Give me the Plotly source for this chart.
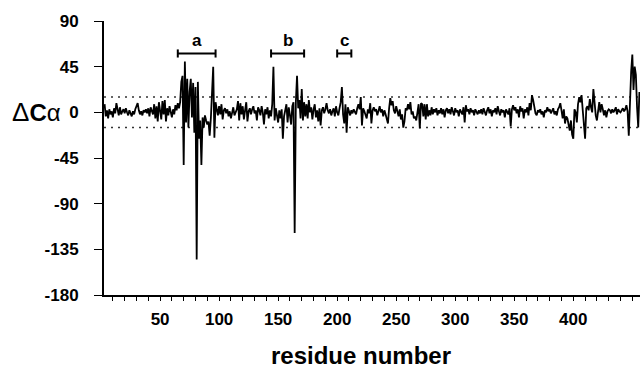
import plotly.graph_objects as go

# ---- data (ΔCα per residue, starting at residue 3) ----
first_residue = 3
seg_003_099 = [
    8, -4, 2, -6, 3, -2, 1,
    -5, 4, -1, 9, 2, -3, 5, -2, 1, 3,
    -1, 4, 0, -3, 2, -1, -4, 1, -2, 3,
    6, 9, 2, -2, 1, -3, 2, 0, 3, -1,
    4, -4, 5, 1, -2, 8, -6, 6, -9, 10,
    2, -7, 11, -2, 12, -9, 4, -3, 6, 1,
    -5, 3, -2, 7, 2, 9, 4, 10, 30, 36,
    -52, 50, -10, 33, -15, 20, 33, -5, 29, -20,
    25, -145, 30, -26, -8, -52, -5, -15, -3, -8,
    -12, -9, -23, -6, 14, 45, -25, 10, 3, -3,
]
seg_100_199 = [
    6, -2, 8, -7, 2, 4, -1, 3, -4, 1,
    -6, 2, 5, -3, 0, 3, 11, -8, 9, -2,
    6, -7, 2, 10, -9, 1, 4, -2, 3, 6,
    -1, 2, -8, 5, 2, -3, 6, 0, -12, 3,
    -2, 5, -6, 2, -4, 8, 45, -8, 4, -3,
    -10, 2, -6, 3, -26, -4, 2, 8, -10, 5,
    -3, -12, 6, 10, -119, 10, 36, 4, 12, -6,
    23, -8, 10, -4, 8, -6, 12, 0, 5, -7,
    3, 8, -5, 2, -9, 4, -13, 2, 5, -1,
    3, 9, 2, -1, 3, -3, 1, 4, -4, 6,
]
seg_200_299 = [
    0, -3, 4, 10, 25, -2, -11, 8, -20, 5,
    1, -3, 2, -1, 3, 0, -2, 4, 8, 3,
    15, -13, 4, 1, -2, -6, 3, -1, 9, -11,
    2, 5, 1, 3, -3, 2, 6, 0, 3, -4,
    2, -2, -6, -11, 4, 14, 7, 11, 2, -1,
    6, 2, -4, 3, -7, -2, -15, -9, 4, 2,
    8, 3, 10, -2, 1, -6, -4, -8, 2, 8,
    -16, 9, 8, -4, 8, -7, 8, -4, 2, -3,
    5, -2, 3, 0, 4, -3, 2, -1, 4, -2,
    3, -5, 2, 4, -1, 3, -2, 5, 1, -3,
]
seg_300_399 = [
    4, 0, 2, -4, 3, 1, -2, 5, -10, 7,
    1, 3, -2, 4, 0, 2, -3, 3, 1, -2,
    2, -1, 3, -2, 4, 1, -3, 2, 5, -1,
    3, -4, 2, 0, 4, -2, 6, 1, -3, 3,
    0, 2, -5, 3, 1, -2, 4, -14, 3, 7,
    2, 5, -1, 3, -5, 6, 1, 4, -6, 3,
    0, 5, -3, 9, 2, 17, 12, 3, -1, -3,
    2, 0, 3, -2, 1, -5, 2, 0, 5, 1,
    3, -1, 2, 4, -2, 1, -3, 3, 5, 9,
    2, -6, 3, -11, -4, -6, -12, -18, -8, -22,
]
seg_400_456 = [
    -26, 3, 0, -10, 8, 15, 10, 17, 2, -10,
    -26, 4, 6, 2, 13, 5, 0, 23, 4, -3,
    -8, 2, 10, 0, 8, 3, -3, 2, -5, 1,
    3, 2, -1, 3, 0, 2, 5, -2, 3, 1,
    0, 2, 4, 1, 3, 7, 1, -23, 15, 40,
    57, 22, 45, 37, 5, -15, 20,
]
delta_ca = seg_003_099 + seg_100_199 + seg_200_299 + seg_300_399 + seg_400_456
residues = list(range(first_residue, first_residue + len(delta_ca)))

threshold = 15
y_ticks = [-180, -135, -90, -45, 0, 45, 90]
y_tick_labels = ["-180", "-135", "-90", "-45", "0", "45", "90"]
x_ticks = [50, 100, 150, 200, 250, 300, 350, 400]
bracket_labels = ["a", "b", "c"]
bracket_starts = [65, 144, 200]
bracket_ends = [97, 172, 212]
bracket_level = 58

x_range = [2.5, 456.5]
y_range = [-180, 90]

FONT = "Liberation Sans, Arial, sans-serif"
W, H = 640, 368
ML, MR, MT, MB = 104, 0, 21, H - 295
PW, PH = W - ML - MR, H - MT - MB

fig = go.Figure()

for t in (threshold, -threshold):
    fig.add_trace(go.Scatter(
        x=x_range, y=[t, t], mode="lines",
        line=dict(color="#333333", width=1.5, dash="2px,5px"),
        hoverinfo="skip", showlegend=False))

fig.add_trace(go.Scatter(
    x=residues, y=delta_ca, mode="lines",
    line=dict(color="black", width=1.8),
    showlegend=False))

shapes = []
annotations = []
for lab, s, e in zip(bracket_labels, bracket_starts, bracket_ends):
    shapes.append(dict(type="line", xref="x", yref="y", x0=s, x1=e,
                       y0=bracket_level, y1=bracket_level,
                       line=dict(color="black", width=2)))
    for xx in (s, e):
        shapes.append(dict(type="line", xref="x", yref="y", x0=xx, x1=xx,
                           y0=bracket_level - 4, y1=bracket_level + 4,
                           line=dict(color="black", width=2)))
    annotations.append(dict(x=(s + e) / 2, y=bracket_level, xref="x", yref="y",
                            text="<b>%s</b>" % lab, showarrow=False,
                            yanchor="bottom", yshift=1,
                            font=dict(family=FONT, size=17, color="black")))

annotations.append(dict(x=(10 - ML) / PW, y=0, xref="paper", yref="y",
                        xanchor="left", yanchor="middle",
                        text="<span style='font-size:26px'>Δ</span><b>C</b>α",
                        showarrow=False,
                        font=dict(family=FONT, size=24, color="black")))
annotations.append(dict(x=(361 - ML) / PW, y=-(355 - 295) / PH,
                        xref="paper", yref="paper",
                        xanchor="center", yanchor="middle",
                        text="<b>residue number</b>", showarrow=False,
                        font=dict(family=FONT, size=24, color="black")))

fig.update_layout(
    width=W, height=H,
    margin=dict(l=ML, r=MR, t=MT, b=MB, autoexpand=False),
    paper_bgcolor="white", plot_bgcolor="white",
    shapes=shapes, annotations=annotations,
    xaxis=dict(range=x_range, showgrid=False, zeroline=False, automargin=False,
               showline=True, linecolor="black", linewidth=2,
               ticks="outside", ticklen=4, tickwidth=1, tickcolor="black",
               tickvals=x_ticks, ticklabelstandoff=4,
               minor=dict(dtick=10, tick0=0, ticks="outside", ticklen=4,
                          tickwidth=1, tickcolor="black", showgrid=False),
               tickfont=dict(family=FONT, size=17, color="black", weight="bold")),
    yaxis=dict(range=y_range, showgrid=False, zeroline=False, automargin=False,
               showline=True, linecolor="black", linewidth=2,
               ticks="outside", ticklen=8, tickwidth=1, tickcolor="black",
               tickvals=y_ticks, ticktext=y_tick_labels, ticklabelstandoff=12,
               tickfont=dict(family=FONT, size=17, color="black", weight="bold")),
)

fig.write_html("out.html",
               config={"displayModeBar": False},
               post_script="document.body.style.margin='0';"
                           "document.body.style.overflow='hidden';")
